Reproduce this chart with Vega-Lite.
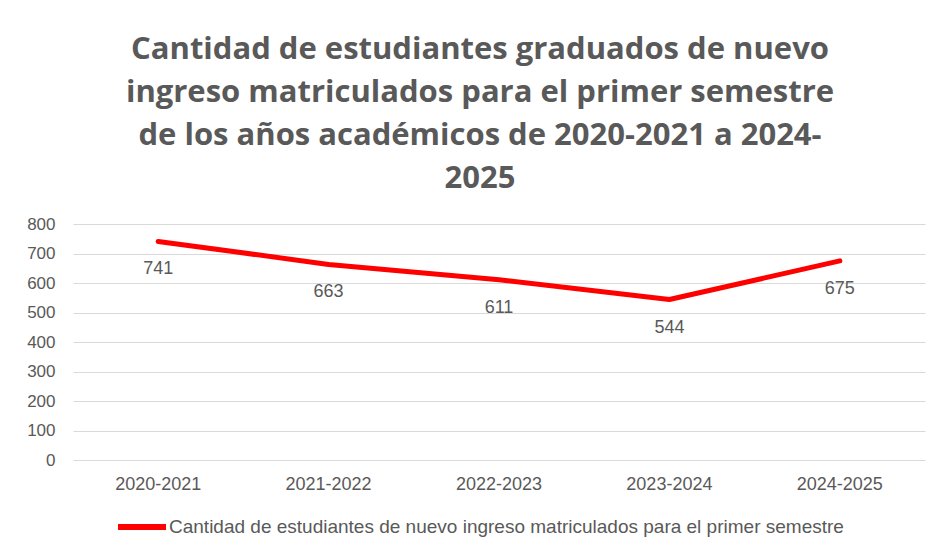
{
  "$schema": "https://vega.github.io/schema/vega-lite/v6.json",
  "width": 852,
  "height": 236,
  "autosize": {"type": "none"},
  "padding": {"left": 73, "top": 224, "right": 10, "bottom": 90},
  "background": "white",
  "config": {
    "view": {"stroke": null},
    "font": "Liberation Sans"
  },
  "title": {
    "text": ["Cantidad de estudiantes graduados de nuevo", "ingreso matriculados para el primer semestre", "de los años académicos de 2020-2021  a 2024-", "2025"],
    "anchor": "middle",
    "dx": -19,
    "font": "Open Sans",
    "fontSize": 31,
    "fontWeight": "bold",
    "color": "#595959",
    "lineHeight": 43,
    "offset": 20
  },
  "data": {
    "values": [
      {"year": "2020-2021", "value": 741, "serie": "Cantidad de estudiantes de nuevo ingreso matriculados para el primer semestre"},
      {"year": "2021-2022", "value": 663, "serie": "Cantidad de estudiantes de nuevo ingreso matriculados para el primer semestre"},
      {"year": "2022-2023", "value": 611, "serie": "Cantidad de estudiantes de nuevo ingreso matriculados para el primer semestre"},
      {"year": "2023-2024", "value": 544, "serie": "Cantidad de estudiantes de nuevo ingreso matriculados para el primer semestre"},
      {"year": "2024-2025", "value": 675, "serie": "Cantidad de estudiantes de nuevo ingreso matriculados para el primer semestre"}
    ]
  },
  "encoding": {
    "x": {
      "field": "year", "type": "ordinal", "title": null,
      "scale": {"type": "band", "paddingInner": 0, "paddingOuter": 0},
      "axis": {"labelAngle": 0, "domain": false, "ticks": false, "labelFontSize": 18, "labelColor": "#595959", "labelPadding": 15}
    },
    "y": {
      "field": "value", "type": "quantitative", "title": null,
      "scale": {"domain": [0, 800]},
      "axis": {"values": [0,100,200,300,400,500,600,700,800], "domain": false, "ticks": false, "labelFontSize": 17, "labelColor": "#595959", "labelPadding": 18, "gridColor": "#d9d9d9", "gridWidth": 1}
    }
  },
  "layer": [
    {
      "mark": {"type": "line", "strokeWidth": 5, "strokeCap": "round", "strokeJoin": "round"},
      "encoding": {
        "color": {
          "field": "serie", "type": "nominal", "title": null,
          "scale": {"range": ["#ff0000"]},
          "legend": {"orient": "none", "legendX": 42, "legendY": 276, "symbolType": "stroke", "symbolSize": 2304, "symbolStrokeWidth": 6, "labelFontSize": 19, "labelColor": "#595959", "labelOffset": 0, "labelLimit": 900}
        }
      }
    },
    {
      "mark": {"type": "text", "dy": 28, "fontSize": 18, "color": "#595959"},
      "encoding": {"text": {"field": "value", "type": "quantitative"}}
    }
  ]
}
